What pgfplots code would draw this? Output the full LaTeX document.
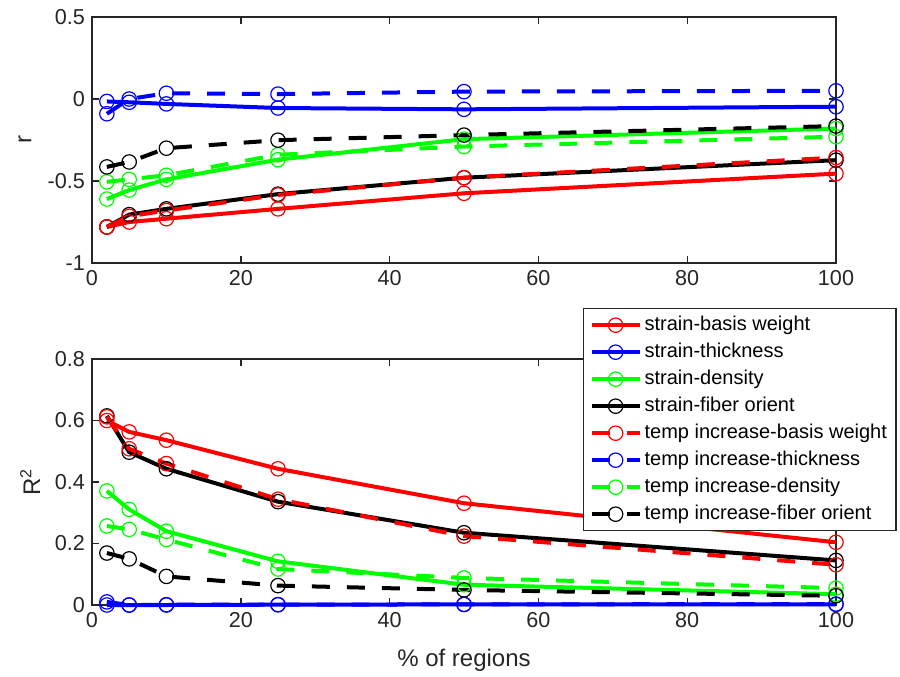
\documentclass[border=0pt]{standalone}
\usepackage{fontspec}
\setmainfont{Liberation Sans}
\usepackage{pgfplots}
\pgfplotsset{compat=1.18}

\definecolor{mred}{rgb}{1,0,0}
\definecolor{mblue}{rgb}{0,0,1}
\definecolor{mgreen}{rgb}{0,1,0}
\definecolor{maxis}{rgb}{0.15,0.15,0.15}

\pgfplotsset{
  matlab/.style={
    scale only axis, width=372pt, height=123pt,
    anchor=south west, clip=false,
    xmin=0, xmax=100, xtick={0,20,...,100},
    tick align=inside, major tick length=3.5pt,
    axis line style={maxis, line width=0.7pt},
    every tick/.style={maxis, line width=0.7pt},
    ticklabel style={font=\fontsize{10.8}{12}\selectfont, text=maxis},
    /pgf/number format/assume math mode=true,
    label style={font=\fontsize{12}{14}\selectfont, text=maxis},
    every axis plot/.append style={line width=2pt, mark=o,
      mark size=3.6pt, mark options={solid, line width=0.6pt}},
    legend image code/.code={
      \draw[mark repeat=2, mark phase=2, #1]
        plot coordinates {(0pt,0pt) (12pt,0pt) (24pt,0pt)};},
  },
  dsh/.style={dash pattern=on 9pt off 8.5pt},
}

\begin{document}
\begin{tikzpicture}
\path[use as bounding box] (0,0) rectangle (450pt,338pt);

% top: correlation coefficient
\begin{axis}[matlab, at={(46pt,206.5pt)},
  ymin=-1, ymax=0.5, ytick={-1,-0.5,0,0.5},
  ylabel={r}, ylabel style={at={(axis description cs:-0.09,0.5)}, anchor=center},
]
\addplot[mred] coordinates {(2,-0.78) (5,-0.75) (10,-0.73) (25,-0.67) (50,-0.575) (100,-0.455)};
\addplot[mblue] coordinates {(2,-0.015) (5,-0.02) (10,-0.03) (25,-0.055) (50,-0.063) (100,-0.047)};
\addplot[mgreen] coordinates {(2,-0.61) (5,-0.555) (10,-0.49) (25,-0.37) (50,-0.245) (100,-0.18)};
\addplot[black] coordinates {(2,-0.78) (5,-0.705) (10,-0.67) (25,-0.58) (50,-0.48) (100,-0.373)};
\addplot[mred, dsh] coordinates {(2,-0.78) (5,-0.715) (10,-0.68) (25,-0.585) (50,-0.48) (100,-0.357)};
\addplot[mblue, dsh] coordinates {(2,-0.09) (5,0.0) (10,0.035) (25,0.03) (50,0.045) (100,0.05)};
\addplot[mgreen, dsh] coordinates {(2,-0.505) (5,-0.49) (10,-0.465) (25,-0.34) (50,-0.29) (100,-0.23)};
\addplot[black, dsh] coordinates {(2,-0.414) (5,-0.384) (10,-0.30) (25,-0.251) (50,-0.22) (100,-0.165)};
\end{axis}

% bottom: R^2
\begin{axis}[matlab, at={(46pt,35.5pt)},
  ymin=0, ymax=0.8, ytick={0,0.2,...,0.8},
  ylabel={R\textsuperscript{2}}, ylabel style={at={(axis description cs:-0.083,0.5)}, anchor=center},
  xlabel={\% of regions}, xlabel style={at={(axis description cs:0.5,-0.224)}, anchor=center},
  legend cell align=left,
  legend style={at={(0.66,1.207)}, anchor=north west,
    draw=maxis, line width=0.6pt, inner xsep=3pt, inner ysep=1.5pt,
    font=\fontsize{10}{12}\selectfont, row sep=0pt,
    nodes={inner xsep=1.5pt, inner ysep=0pt, text height=9.6pt, text depth=3.9pt}},
]
\addplot[mred] coordinates {(2,0.60) (5,0.563) (10,0.536) (25,0.443) (50,0.331) (100,0.204)};
\addplot[mblue] coordinates {(2,0.0) (5,0.0) (10,0.0) (25,0.001) (50,0.002) (100,0.002)};
\addplot[mgreen] coordinates {(2,0.371) (5,0.311) (10,0.24) (25,0.142) (50,0.066) (100,0.035)};
\addplot[black] coordinates {(2,0.615) (5,0.497) (10,0.443) (25,0.336) (50,0.235) (100,0.145)};
\addplot[mred, dsh] coordinates {(2,0.612) (5,0.508) (10,0.46) (25,0.344) (50,0.224) (100,0.131)};
\addplot[mblue, dsh] coordinates {(2,0.01) (5,0.0) (10,0.001) (25,0.001) (50,0.002) (100,0.003)};
\addplot[mgreen, dsh] coordinates {(2,0.257) (5,0.246) (10,0.213) (25,0.117) (50,0.088) (100,0.055)};
\addplot[black, dsh] coordinates {(2,0.169) (5,0.15) (10,0.093) (25,0.063) (50,0.049) (100,0.03)};
\legend{strain-basis weight, strain-thickness, strain-density, strain-fiber orient,
  temp increase-basis weight, temp increase-thickness, temp increase-density,
  temp increase-fiber orient}
\end{axis}
\end{tikzpicture}
\end{document}
